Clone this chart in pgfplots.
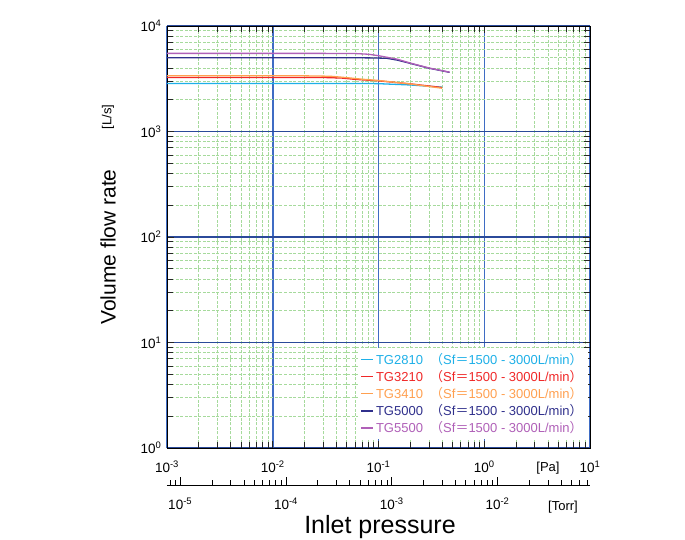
\documentclass[border=0pt]{standalone}
\usepackage{pgfplots}
\pgfplotsset{compat=1.18}
\usepackage{fontspec}
\setmainfont{Liberation Sans}
\newfontfamily\cjk{Noto Sans CJK JP}
\definecolor{cA}{HTML}{1EB0E8}
\definecolor{cB}{HTML}{F02828}
\definecolor{cC}{HTML}{FFA050}
\definecolor{cD}{HTML}{30308C}
\definecolor{cE}{HTML}{B060B8}
\definecolor{xmaj}{HTML}{3F6CC4}
\definecolor{ymaj}{HTML}{2B4A9A}
\definecolor{mingrid}{HTML}{A6DA9C}
\newcommand{\sfnote}{{\cjk （}Sf{\cjk ＝}1500 - 3000L/min{\cjk ）}}
\newcommand{\tl}[1]{10\textsuperscript{#1}}
\begin{document}
\begin{tikzpicture}[x=1pt,y=1pt]
\useasboundingbox (0,0) rectangle (685,540);
\begin{axis}[
  at={(167pt,92pt)}, anchor=south west,
  scale only axis, width=423pt, height=422pt,
  xmode=log, ymode=log,
  xmin=1e-3, xmax=10, ymin=1, ymax=1e4,
  xtick={1e-3,1e-2,1e-1,1,10},
  xticklabels={\tl{-3},\tl{-2},\tl{-1},\tl{0},\tl{1}},
  ytick={1,10,100,1000,10000},
  yticklabels={\tl{0},\tl{1},\tl{2},\tl{3},\tl{4}},
  minor xtick={2e-3,3e-3,4e-3,5e-3,6e-3,7e-3,8e-3,9e-3,
               2e-2,3e-2,4e-2,5e-2,6e-2,7e-2,8e-2,9e-2,
               0.2,0.3,0.4,0.5,0.6,0.7,0.8,0.9,2,3,4,5,6,7,8,9},
  minor ytick={2,3,4,5,6,7,8,9,20,30,40,50,60,70,80,90,
               200,300,400,500,600,700,800,900,2000,3000,4000,5000,6000,7000,8000,9000},
  grid=both,
  major x grid style={xmaj, line width=1.5pt},
  major y grid style={ymaj, line width=1.2pt},
  minor grid style={mingrid, dash pattern=on 3pt off 1.5pt, line width=0.7pt},
  tick align=inside,
  major tick length=7pt, minor tick length=6pt,
  tick style={black!85, line width=0.7pt},
  axis line style={black, line width=0.9pt},
  tick label style={font=\fontsize{13.5}{15}\selectfont},
  xticklabel style={yshift=-9pt},
  yticklabel style={xshift=-2pt},
  legend style={at={(0.995,0.02)}, anchor=south east, draw=none, fill=white,
    font=\fontsize{13}{15}\selectfont, row sep=0.5pt, inner sep=3pt},
  legend cell align=left,
  legend image code/.code={\draw[#1, line width=1.2pt] (0pt,0pt) -- (12pt,0pt);},
  every axis plot/.append style={line width=1.3pt},
]
\addplot[cA] coordinates {(1e-3,2850) (0.08,2850) (0.1,2840) (0.2,2760) (0.4,2630)};
\addlegendentry{\textcolor{cA}{TG2810\ \ \sfnote}}
\addplot[cB] coordinates {(1e-3,3250) (0.03,3250) (0.045,3210) (0.06,3120) (0.1,3020) (0.2,2830) (0.4,2610)};
\addlegendentry{\textcolor{cB}{TG3210\ \ \sfnote}}
\addplot[cC] coordinates {(1e-3,3370) (0.02,3370) (0.035,3340) (0.05,3240) (0.07,3130) (0.1,3045) (0.2,2820) (0.4,2570)};
\addlegendentry{\textcolor{cC}{TG3410\ \ \sfnote}}
\addplot[cD] coordinates {(1e-3,5000) (0.06,5000) (0.09,4980) (0.12,4940) (0.15,4750) (0.2,4420) (0.3,3980) (0.47,3640)};
\addlegendentry{\textcolor{cD}{TG5000\ \ \sfnote}}
\addplot[cE] coordinates {(1e-3,5500) (0.03,5500) (0.06,5480) (0.08,5400) (0.1,5230) (0.15,4850) (0.2,4450) (0.3,4000) (0.47,3650)};
\addlegendentry{\textcolor{cE}{TG5500\ \ \sfnote}}
\end{axis}
\begin{axis}[
  at={(167pt,55pt)}, anchor=south west,
  scale only axis, width=423pt, height=10pt,
  xmode=log, xmin=7.5006e-6, xmax=7.5006e-2, ymin=0, ymax=1,
  axis x line=bottom, x axis line style={-, black, line width=0.9pt},
  hide y axis,
  xtick={1e-5,1e-4,1e-3,1e-2},
  xticklabels={\tl{-5},\tl{-4},\tl{-3},\tl{-2}},
  minor xtick={8e-6,9e-6,2e-5,3e-5,4e-5,5e-5,6e-5,7e-5,8e-5,9e-5,
               2e-4,3e-4,4e-4,5e-4,6e-4,7e-4,8e-4,9e-4,
               2e-3,3e-3,4e-3,5e-3,6e-3,7e-3,8e-3,9e-3,
               2e-2,3e-2,4e-2,5e-2,6e-2,7e-2},
  tick align=inside,
  major tick length=8pt, minor tick length=5pt,
  tick style={black, line width=0.6pt},
  tick label style={font=\fontsize{13.5}{15}\selectfont},
  xticklabel style={yshift=-9pt},
]
\addplot[draw=none] coordinates {(1e-5,0.5)};
\end{axis}
\node[font=\fontsize{13}{15}\selectfont] at (548,72) {[Pa]};
\node[font=\fontsize{13}{15}\selectfont] at (563,33) {[Torr]};
\node[font=\fontsize{25}{28}\selectfont] at (380,13) {Inlet pressure};
\node[font=\fontsize{21}{24}\selectfont, rotate=90] at (108,293) {Volume flow rate};
\node[font=\fontsize{13}{15}\selectfont, rotate=90] at (108,423) {[L/s]};
\end{tikzpicture}
\end{document}
